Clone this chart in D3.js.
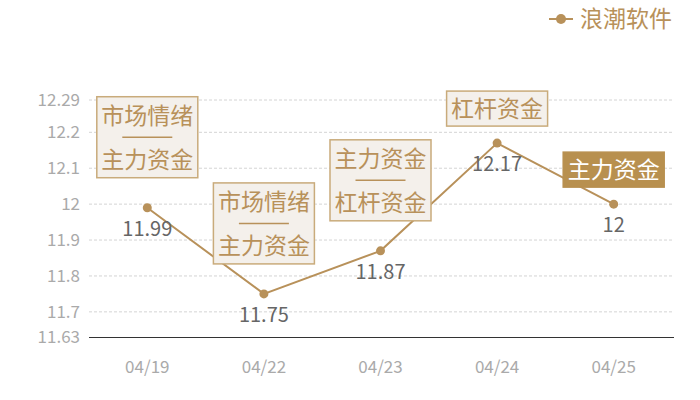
<!DOCTYPE html>
<html>
<head>
<meta charset="utf-8">
<script src="https://cdn.jsdelivr.net/npm/d3@7/dist/d3.min.js"></script>
<style>
  body { margin: 0; background: #fff; }
  svg { display: block; font-family: "Noto Sans CJK SC", "Noto Sans", sans-serif; }
</style>
</head>
<body>
<div id="chart"></div>
<script>
var dates = ['04/19', '04/22', '04/23', '04/24', '04/25'];
var prices = [11.99, 11.75, 11.87, 12.17, 12];
var yTicks = [11.63, 11.7, 11.8, 11.9, 12, 12.1, 12.2, 12.29];
// '|' marks the rule drawn between two tags
var notes = [
  ['市场情绪', '|', '主力资金'],
  ['市场情绪', '|', '主力资金'],
  ['主力资金', '|', '杠杆资金'],
  ['杠杆资金'],
  ['主力资金']
];
var highlighted = [false, false, false, false, true];
var seriesName = '浪潮软件';

var width = 700, height = 400;
var gold = '#b8915a';

var svg = d3.select('#chart').append('svg')
  .attr('width', width).attr('height', height);

var x = d3.scaleBand().domain(dates).range([89, 672]);
var y = d3.scaleLinear().domain([11.63, 12.29]).range([337, 100]);
var cx = function (d) { return x(d) + x.bandwidth() / 2; };

// grid lines
svg.append('g').selectAll('line')
  .data(yTicks.filter(function (t) { return t !== 11.63; }))
  .enter().append('line')
  .attr('x1', 89).attr('x2', 674)
  .attr('y1', function (d) { return y(d); }).attr('y2', function (d) { return y(d); })
  .attr('stroke', '#d4d4d4').attr('stroke-dasharray', '3,2');

// y axis labels
var yAxis = d3.axisLeft(y).tickValues(yTicks).tickSize(0).tickPadding(9)
  .tickFormat(function (d) { return String(d); });
var yg = svg.append('g').attr('transform', 'translate(89,0)').call(yAxis);
yg.select('.domain').remove();
yg.selectAll('text').attr('fill', '#aaa').attr('font-size', 17)
  .attr('font-family', '"Noto Sans CJK SC", sans-serif');

// x axis
var xAxis = d3.axisBottom(x).tickSize(0).tickPadding(24);
var xg = svg.append('g').attr('transform', 'translate(0,337)').call(xAxis);
xg.select('.domain').attr('stroke', '#333').attr('d', 'M89,0.5H674');
xg.selectAll('text').attr('fill', '#aaa').attr('font-size', 17)
  .attr('font-family', '"Noto Sans CJK SC", sans-serif');

// line
var line = d3.line()
  .x(function (d, i) { return cx(dates[i]); })
  .y(function (d) { return y(d); });
svg.append('path').datum(prices)
  .attr('d', line).attr('fill', 'none').attr('stroke', gold).attr('stroke-width', 2);

svg.append('g').selectAll('circle').data(prices).enter().append('circle')
  .attr('cx', function (d, i) { return cx(dates[i]); })
  .attr('cy', function (d) { return y(d); })
  .attr('r', 4.5).attr('fill', gold);

// value labels
svg.append('g').selectAll('text').data(prices).enter().append('text')
  .attr('x', function (d, i) { return cx(dates[i]); })
  .attr('y', function (d) { return y(d) + 21; })
  .attr('dy', '0.36em')
  .attr('text-anchor', 'middle').attr('fill', '#666').attr('font-size', 20)
  .text(function (d) { return String(d); });

// annotation boxes
var boxW = 101;
var notesG = svg.append('g');
notes.forEach(function (lines, i) {
  var px = cx(dates[i]), py = y(prices[i]);
  var h = lines.length === 1 ? 35 : 81;
  var bottom = py - (lines.length === 1 ? 17 : 30);
  var g = notesG.append('g');
  g.append('rect')
    .attr('x', px - boxW / 2).attr('y', bottom - h)
    .attr('width', boxW).attr('height', h)
    .attr('fill', highlighted[i] ? '#b8904f' : '#f4f0eb')
    .attr('stroke', highlighted[i] ? '#b8904f' : '#c9ab7b').attr('stroke-width', 1.5);
  var lh = 22;
  var start = bottom - h / 2 - (lines.length - 1) * lh / 2;
  lines.forEach(function (t, j) {
    var ty = start + j * lh;
    if (t === '|') {
      g.append('line')
        .attr('x1', px - 25).attr('x2', px + 25)
        .attr('y1', ty).attr('y2', ty)
        .attr('stroke', gold).attr('stroke-width', 1.5);
      return;
    }
    g.append('text')
      .attr('x', px).attr('y', ty)
      .attr('dy', '0.36em')
      .attr('text-anchor', 'middle')
      .attr('font-size', 23)
      .attr('fill', highlighted[i] ? '#fff' : gold)
      .text(t);
  });
});

// legend
var lg = svg.append('g').attr('transform', 'translate(549,19)');
lg.append('line').attr('x1', 0).attr('x2', 24).attr('stroke', gold).attr('stroke-width', 2);
lg.append('circle').attr('cx', 12).attr('r', 5).attr('fill', gold);
lg.append('text').attr('x', 31).attr('dy', '0.36em')
  .attr('font-size', 23).attr('fill', gold).text(seriesName);
</script>
</body>
</html>
